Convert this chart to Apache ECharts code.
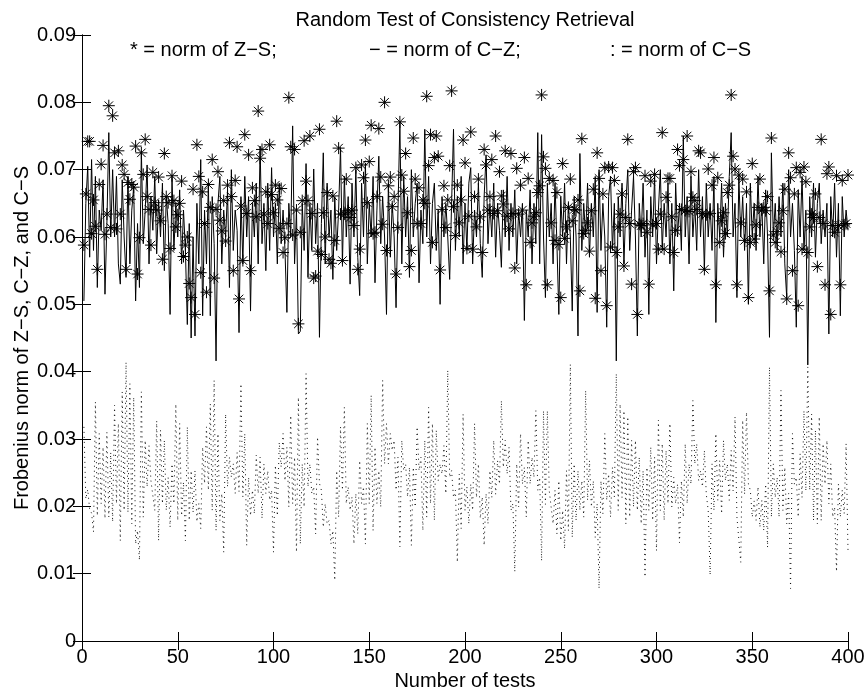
<!DOCTYPE html>
<html><head><meta charset="utf-8">
<script src="https://cdn.jsdelivr.net/npm/echarts@6/dist/echarts.min.js"></script>
<style>html,body{margin:0;padding:0;background:#fff}#c{width:867px;height:694px}</style>
</head><body><div id="c"></div>
<script>
// ---- data ----
const xTicks = [0, 50, 100, 150, 200, 250, 300, 350, 400];
const yTicks = [0, 0.01, 0.02, 0.03, 0.04, 0.05, 0.06, 0.07, 0.08, 0.09];
const titleText = 'Random Test of Consistency Retrieval';
const xName = 'Number of tests';
const yName = 'Frobenius norm of Z\u2212S, C\u2212Z, and C\u2212S';
const legendTexts = ['* = norm of Z\u2212S;', '\u2212 = norm of C\u2212Z;', ': = norm of C\u2212S'];

// norm of Z-S (asterisks), tests 1..400
const zsA = [0.0588,0.0664,0.0742,0.0742,0.0605,0.0655,0.0616,0.0552,0.0678,0.0708,0.0736,0.0604,0.0634,0.0795,0.0614,0.0780,0.0725,0.0612,0.0728,0.0634,0.0707,0.0693,0.0552,0.0681,0.0656,0.0678,0.0674,0.0735,0.0545,0.0599];
const zsB = [0.0725,0.0693,0.0745,0.0660,0.0641,0.0588,0.0696,0.0651,0.0640,0.0689,0.0624,0.0567,0.0724,0.0660,0.0651,0.0583,0.0691,0.0654,0.0615,0.0633,0.0650,0.0683,0.0571,0.0588,0.0600,0.0531,0.0510,0.0671,0.0485,0.0737,0.0690,0.0547,0.0667,0.0620,0.0518,0.0678,0.0644,0.0715,0.0539,0.0641,0.0697,0.0625,0.0609,0.0654,0.0594,0.0677,0.0740,0.0660,0.0550,0.0684,0.0734,0.0508,0.0646];
const zsC = [0.0565,0.0752,0.0635,0.0722,0.0550,0.0673,0.0654,0.0630,0.0787,0.0717,0.0730,0.0634,0.0667,0.0620,0.0737,0.0663,0.0636,0.0677,0.0655,0.0613,0.0672,0.0577,0.0599,0.0620,0.0807,0.0734,0.0603,0.0730,0.0640,0.0471,0.0607,0.0654,0.0743,0.0683,0.0654,0.0750,0.0635,0.0539,0.0542,0.0579,0.0760,0.0574,0.0636,0.0600,0.0666,0.0567,0.0561,0.0661,0.0595,0.0772,0.0732,0.0634,0.0565];
const zsD = [0.0634,0.0686,0.0639,0.0629,0.0640,0.0617,0.0703,0.0552,0.0582,0.0707,0.0688,0.0744,0.0651,0.0712,0.0766,0.0605,0.0607,0.0660,0.0761,0.0689,0.0619,0.0800,0.0580,0.0676,0.0689,0.0645,0.0660,0.0545,0.0614,0.0771,0.0692,0.0668,0.0724,0.0636,0.0556,0.0580,0.0747,0.0686,0.0620,0.0673,0.0620,0.0655,0.0650,0.0809,0.0706,0.0752,0.0592,0.0718,0.0750,0.0720,0.0551,0.0641,0.0676,0.0614];
const zsE = [0.0655,0.0706,0.0817,0.0645,0.0602,0.0677,0.0621,0.0655,0.0744,0.0710,0.0583,0.0631,0.0756,0.0582,0.0660,0.0615,0.0686,0.0630,0.0577,0.0730,0.0707,0.0640,0.0660,0.0715,0.0635,0.0750,0.0639,0.0697,0.0661,0.0649,0.0728,0.0631,0.0612,0.0724,0.0635,0.0554,0.0702,0.0634,0.0677,0.0640,0.0718,0.0529,0.0687,0.0592,0.0621,0.0631,0.0636,0.0666,0.0676,0.0811,0.0719,0.0702,0.0529];
const zsF = [0.0687,0.0621,0.0684,0.0595,0.0666,0.0589,0.0510,0.0709,0.0598,0.0615,0.0644,0.0686,0.0624,0.0641,0.0640,0.0655,0.0520,0.0746,0.0605,0.0610,0.0621,0.0579,0.0639,0.0671,0.0509,0.0725,0.0687,0.0550,0.0664,0.0703,0.0498,0.0704,0.0585,0.0703,0.0684,0.0577,0.0615,0.0634,0.0664,0.0557,0.0629,0.0745,0.0620,0.0530,0.0697,0.0703,0.0485,0.0619,0.0617,0.0620,0.0691,0.0607,0.0530];
const zsG = [0.0683,0.0618,0.0693,0.0620,0.0582,0.0634,0.0755,0.0582,0.0659,0.0687,0.0687,0.0630,0.0577,0.0610,0.0730,0.0706,0.0641,0.0715,0.0639,0.0750,0.0638,0.0697,0.0659,0.0654,0.0641,0.0728,0.0725,0.0635,0.0552,0.0633,0.0701,0.0635,0.0677,0.0718,0.0529,0.0688,0.0592,0.0624,0.0636,0.0605,0.0666,0.0677,0.0811,0.0720,0.0701,0.0529,0.0692,0.0621,0.0686,0.0595,0.0667,0.0510,0.0592];
const zsH = [0.0709,0.0597,0.0618,0.0644,0.0686,0.0640,0.0644,0.0639,0.0660,0.0520,0.0747,0.0603,0.0592,0.0608,0.0621,0.0578,0.0639,0.0671,0.0508,0.0725,0.0688,0.0550,0.0664,0.0703,0.0498,0.0696,0.0582,0.0704,0.0682,0.0577,0.0615,0.0634,0.0629,0.0664,0.0556,0.0629,0.0745,0.0620,0.0529,0.0694,0.0704,0.0485,0.0617,0.0607,0.0691,0.0617,0.0529,0.0684,0.0618,0.0620,0.0692];

// norm of C-Z (solid line), tests 1..400
const czA = [
0.0505,0.0650,0.0705,0.0570,0.0715,0.0580,0.0690,0.0525,0.0640,0.0610,
0.0685,0.0515,0.0620,0.0755,0.0600,0.0700,0.0600,0.0690,0.0560,0.0530,
0.0685,0.0600,0.0540,0.0690,0.0560,0.0640,0.0675,0.0505,0.0620,0.0525,
0.0728,0.0590,0.0640,0.0707,0.0560,0.0660,0.0610,0.0690,0.0575,0.0655,
0.0600,0.0680,0.0550,0.0660,0.0620,0.0485,0.0690,0.0580,0.0650,0.0600,
0.0670,0.0560,0.0640,0.0580,0.0470,0.0620,0.0450,0.0600,0.0453,0.0650,
0.0560,0.0715,0.0483,0.0640,0.0560,0.0680,0.0483,0.0660,0.0590,0.0416,
0.0650,0.0690,0.0560,0.0640,0.0600,0.0670,0.0525,0.0700,0.0580,0.0640,
0.0610,0.0458,0.0660,0.0560,0.0690,0.0600,0.0660,0.0490,0.0650,0.0600,
0.0680,0.0560,0.0735,0.0590,0.0650,0.0550,0.0680,0.0580,0.0703,0.0600,
0.0650,0.0560,0.0680,0.0590,0.0640,0.0580,0.0488,0.0650,0.0600,0.0765,
0.0560,0.0640,0.0456,0.0460,0.0650,0.0580,0.0709,0.0540,0.0650,0.0580,
0.0701,0.0590,0.0650,0.0451,0.0620,0.0725,0.0560,0.0680,0.0600,0.0640,
0.0537,0.0660,0.0580,0.0640,0.0733,0.0560,0.0690,0.0600,0.0660,0.0530,
0.0680,0.0600,0.0700,0.0570,0.0513,0.0680,0.0600,0.0710,0.0560,0.0650,
0.0600,0.0690,0.0532,0.0640,0.0720,0.0590,0.0660,0.0600,0.0485,0.0680,
0.0570,0.0650,0.0600,0.0495,0.0640,0.0770,0.0560,0.0690,0.0600,0.0660,
0.0540,0.0700,0.0600,0.0650,0.0680,0.0532,0.0640,0.0590,0.0760,0.0600,
0.0690,0.0560,0.0650,0.0680,0.0580,0.0640,0.0500,0.0660,0.0600,0.0650,
0.0600,0.0537,0.0650,0.0760,0.0580,0.0660,0.0600,0.0690,0.0560,0.0650];
const czB = [
0.0580,0.0680,0.0703,0.0560,0.0640,0.0600,0.0680,0.0590,0.0540,0.0660,
0.0722,0.0590,0.0650,0.0600,0.0680,0.0570,0.0650,0.0610,0.0555,0.0670,
0.0600,0.0690,0.0580,0.0650,0.0600,0.0670,0.0560,0.0640,0.0600,0.0650,
0.0476,0.0640,0.0600,0.0670,0.0560,0.0650,0.0590,0.0755,0.0560,0.0752,
0.0600,0.0510,0.0680,0.0600,0.0650,0.0560,0.0680,0.0590,0.0485,0.0660,
0.0600,0.0680,0.0560,0.0650,0.0600,0.0490,0.0660,0.0600,0.0453,0.0724,
0.0580,0.0650,0.0600,0.0680,0.0570,0.0650,0.0600,0.0690,0.0488,0.0700,
0.0580,0.0650,0.0600,0.0466,0.0660,0.0690,0.0580,0.0650,0.0416,0.0660,
0.0600,0.0680,0.0560,0.0650,0.0700,0.0580,0.0640,0.0690,0.0600,0.0453,
0.0650,0.0600,0.0680,0.0570,0.0640,0.0485,0.0660,0.0600,0.0690,0.0560,
0.0640,0.0700,0.0580,0.0650,0.0600,0.0680,0.0560,0.0650,0.0520,0.0680,
0.0600,0.0650,0.0580,0.0750,0.0600,0.0660,0.0560,0.0690,0.0600,0.0650,
0.0580,0.0700,0.0600,0.0660,0.0550,0.0680,0.0600,0.0650,0.0580,0.0690,
0.0473,0.0650,0.0600,0.0680,0.0570,0.0650,0.0600,0.0690,0.0755,0.0600,
0.0650,0.0510,0.0690,0.0600,0.0660,0.0580,0.0650,0.0500,0.0680,0.0600,
0.0650,0.0580,0.0690,0.0600,0.0650,0.0560,0.0670,0.0600,0.0451,0.0725,
0.0600,0.0650,0.0580,0.0660,0.0600,0.0680,0.0560,0.0510,0.0700,0.0600,
0.0650,0.0580,0.0466,0.0670,0.0600,0.0690,0.0580,0.0640,0.0410,0.0660,
0.0600,0.0680,0.0570,0.0650,0.0680,0.0590,0.0640,0.0600,0.0650,0.0456,
0.0660,0.0600,0.0680,0.0570,0.0650,0.0483,0.0660,0.0600,0.0640,0.0610];

// norm of C-S (dotted line), tests 1..400
const csA = [
0.0318,0.0211,0.0225,0.0195,0.0190,0.0162,0.0355,0.0186,0.0308,0.0204,
0.0288,0.0182,0.0310,0.0184,0.0280,0.0177,0.0350,0.0204,0.0323,0.0149,
0.0370,0.0194,0.0414,0.0191,0.0382,0.0174,0.0362,0.0144,0.0164,0.0120,
0.0370,0.0184,0.0298,0.0229,0.0290,0.0238,0.0238,0.0194,0.0327,0.0149,
0.0313,0.0204,0.0298,0.0194,0.0243,0.0169,0.0263,0.0204,0.0352,0.0179,
0.0323,0.0186,0.0236,0.0149,0.0318,0.0179,0.0253,0.0191,0.0253,0.0177,
0.0204,0.0167,0.0288,0.0234,0.0318,0.0224,0.0352,0.0194,0.0387,0.0164,
0.0308,0.0179,0.0219,0.0132,0.0337,0.0229,0.0273,0.0243,0.0263,0.0219,
0.0280,0.0222];
const csB = [
0.0382,0.0214,0.0308,0.0142,0.0243,0.0186,0.0224,0.0189,0.0276,0.0219,
0.0273,0.0182,0.0263,0.0219,0.0253,0.0209,0.0224,0.0132,0.0261,0.0186,
0.0295,0.0258,0.0308,0.0238,0.0288,0.0199,0.0335,0.0204,0.0273,0.0132,
0.0362,0.0144,0.0263,0.0199,0.0397,0.0229,0.0263,0.0219,0.0229,0.0159,
0.0303,0.0234,0.0224,0.0169,0.0204,0.0174,0.0179,0.0144,0.0164,0.0090,
0.0253,0.0184,0.0318,0.0224,0.0347,0.0204,0.0229,0.0194,0.0214,0.0144,
0.0219,0.0159,0.0268,0.0204,0.0229,0.0144,0.0323,0.0204,0.0365,0.0164,
0.0288,0.0204,0.0253,0.0199,0.0387,0.0263,0.0323,0.0263,0.0308,0.0283,
0.0298,0.0224,0.0273,0.0140,0.0298,0.0253,0.0263,0.0214,0.0258,0.0142,
0.0258,0.0199,0.0318,0.0253,0.0273,0.0164,0.0298,0.0184,0.0347,0.0204,
0.0323,0.0179,0.0313,0.0238,0.0263,0.0248];
const csC = [
0.0290,0.0219,0.0402,0.0243,0.0253,0.0213,0.0224,0.0117,0.0248,0.0167,
0.0337,0.0194,0.0229,0.0174,0.0233,0.0194,0.0323,0.0213,0.0263,0.0182,
0.0214,0.0142,0.0219,0.0174,0.0253,0.0213,0.0298,0.0218,0.0268,0.0233,
0.0357,0.0258,0.0298,0.0248,0.0288,0.0194,0.0204,0.0103,0.0263,0.0199,
0.0308,0.0233,0.0258,0.0184,0.0298,0.0233,0.0273,0.0243,0.0342,0.0224,
0.0243,0.0119,0.0342,0.0203,0.0342,0.0223,0.0224,0.0174,0.0224,0.0159,
0.0238,0.0149,0.0194,0.0137,0.0253,0.0164,0.0411,0.0154,0.0263,0.0179,
0.0253,0.0194,0.0238,0.0184,0.0372,0.0209,0.0268,0.0199,0.0238,0.0154,
0.0204,0.0078,0.0238,0.0189,0.0308,0.0209,0.0248,0.0184,0.0258,0.0214,
0.0397,0.0194,0.0352,0.0213,0.0342,0.0174,0.0333,0.0184,0.0298,0.0199,
0.0298,0.0194,0.0273,0.0174,0.0253,0.0095];
const csD = [
0.0258,0.0194,0.0288,0.0179,0.0273,0.0134,0.0328,0.0194,0.0293,0.0179,
0.0283,0.0204,0.0323,0.0199,0.0243,0.0204,0.0233,0.0146,0.0238,0.0184,
0.0293,0.0204,0.0263,0.0233,0.0357,0.0263,0.0293,0.0238,0.0253,0.0229,
0.0283,0.0218,0.0194,0.0098,0.0263,0.0194,0.0308,0.0209,0.0268,0.0189,
0.0298,0.0238,0.0263,0.0209,0.0283,0.0223,0.0333,0.0184,0.0184,0.0117,
0.0328,0.0218,0.0340,0.0233,0.0224,0.0184,0.0208,0.0179,0.0229,0.0169,
0.0209,0.0164,0.0233,0.0139,0.0407,0.0184,0.0263,0.0213,0.0243,0.0184,
0.0372,0.0194,0.0258,0.0174,0.0219,0.0078,0.0308,0.0233,0.0243,0.0184,
0.0278,0.0213,0.0342,0.0223,0.0407,0.0224,0.0337,0.0179,0.0313,0.0174,
0.0333,0.0179,0.0293,0.0233,0.0298,0.0204,0.0263,0.0184,0.0199,0.0103,
0.0233,0.0184,0.0224,0.0189,0.0293,0.0134];

// ---- build ----
const zs = [].concat(zsA, zsB, zsC, zsD, zsE, zsF, zsG, zsH);
const cz = [].concat(czA, czB);
const cs = [].concat(csA, csB, csC, csD);
const toXY = arr => arr.map((v, i) => [i + 1, v]);

const FONT = '"Liberation Sans", Arial, Helvetica, sans-serif';
const G = {left: 82, right: 19, top: 35, bottom: 53};
const W = 867, H = 694;
const plotCx = G.left + (W - G.left - G.right) / 2;
const plotCy = G.top + (H - G.top - G.bottom) / 2;

const axisCommon = {
  axisLine: {show: true, lineStyle: {color: '#000', width: 1}},
  axisTick: {show: true, inside: true, length: 9, lineStyle: {color: '#000', width: 1}},
  splitLine: {show: false}
};

const chart = echarts.init(document.getElementById('c'), null, {renderer: 'canvas'});
chart.setOption({
  backgroundColor: '#fff',
  animation: false,
  grid: Object.assign({outerBoundsMode: 'none', containLabel: false}, G),
  xAxis: [
    Object.assign({type: 'value', min: xTicks[0], max: xTicks[xTicks.length - 1], interval: xTicks[1] - xTicks[0], position: 'bottom',
      axisLabel: {color: '#000', fontSize: 20, fontFamily: FONT, margin: 6}}, axisCommon),
    Object.assign({type: 'value', min: xTicks[0], max: xTicks[xTicks.length - 1], interval: xTicks[1] - xTicks[0], position: 'top',
      axisLabel: {show: false}}, axisCommon)
  ],
  yAxis: [
    Object.assign({type: 'value', min: yTicks[0], max: yTicks[yTicks.length - 1], interval: 0.01, position: 'left',
      axisLabel: {color: '#000', fontSize: 20, fontFamily: FONT, margin: 6,
        formatter: v => (Math.abs(v) < 1e-9 ? '0' : (+v).toFixed(2))}}, axisCommon),
    Object.assign({type: 'value', min: yTicks[0], max: yTicks[yTicks.length - 1], interval: 0.01, position: 'right',
      axisLabel: {show: false}}, axisCommon)
  ],
  series: [
    {
      type: 'scatter', data: toXY(zs), xAxisIndex: 0, yAxisIndex: 0,
      symbol: 'path://M5 0L5 10M0 5L10 5M1.46 1.46L8.54 8.54M1.46 8.54L8.54 1.46',
      symbolSize: 12,
      itemStyle: {color: 'rgba(0,0,0,0)', borderColor: '#000', borderWidth: 1, opacity: 1},
      emphasis: {disabled: true}, silent: true, z: 2
    },
    {
      type: 'line', data: toXY(cz), showSymbol: false, symbol: 'none',
      lineStyle: {color: '#000', width: 1}, silent: true, z: 3
    },
    {
      type: 'line', data: toXY(cs), showSymbol: false, symbol: 'none',
      lineStyle: {color: '#111', width: 1, type: [1, 4]}, silent: true, z: 4
    }
  ],
  graphic: [
    {type: 'text', x: plotCx, y: 20, style: {text: titleText, fill: '#000', font: '20px ' + FONT, align: 'center', verticalAlign: 'middle'}},
    {type: 'text', x: 130, y: 50, style: {text: legendTexts[0], fill: '#000', font: '20px ' + FONT, align: 'left', verticalAlign: 'middle'}},
    {type: 'text', x: 369, y: 50, style: {text: legendTexts[1], fill: '#000', font: '20px ' + FONT, align: 'left', verticalAlign: 'middle'}},
    {type: 'text', x: 610, y: 50, style: {text: legendTexts[2], fill: '#000', font: '20px ' + FONT, align: 'left', verticalAlign: 'middle'}},
    {type: 'text', x: plotCx, y: 681, style: {text: xName, fill: '#000', font: '20px ' + FONT, align: 'center', verticalAlign: 'middle'}},
    {type: 'text', x: 22, y: plotCy, rotation: Math.PI / 2, style: {text: yName, fill: '#000', font: '20px ' + FONT, align: 'center', verticalAlign: 'middle'}}
  ]
});
</script>
</body></html>
